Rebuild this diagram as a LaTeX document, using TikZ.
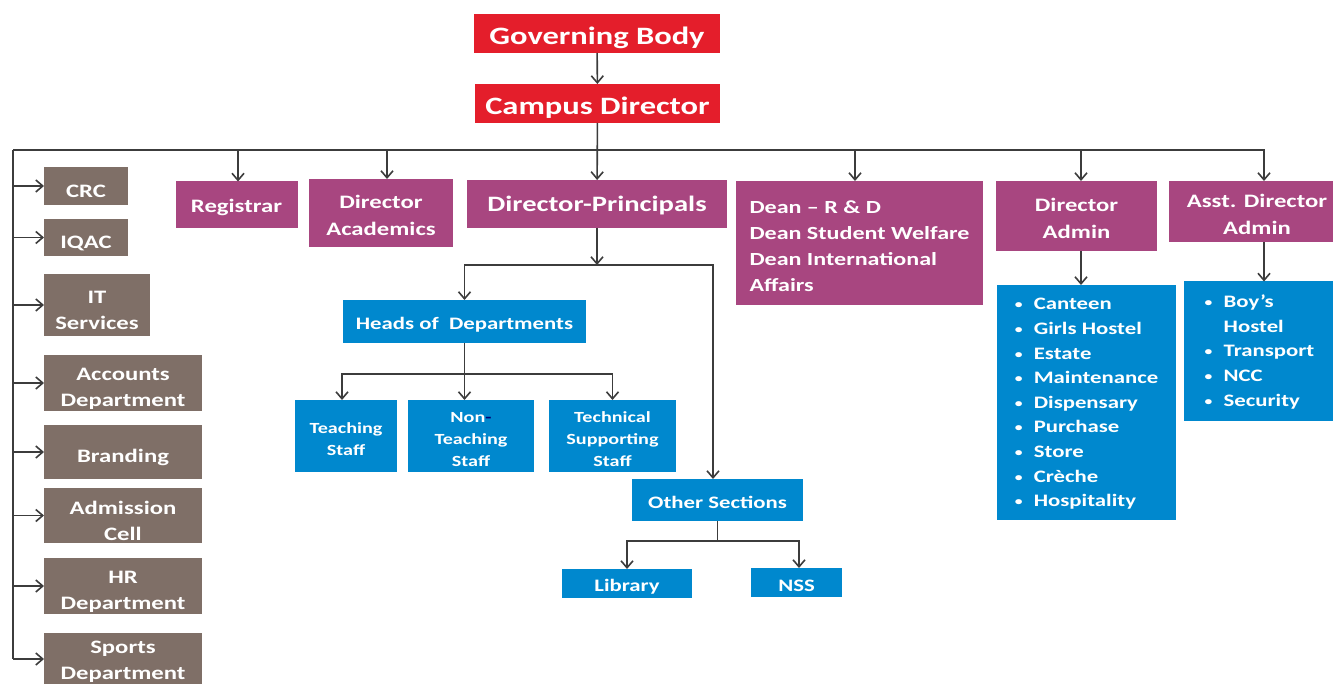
\documentclass[tikz,border=0pt]{standalone}
\usepackage{fontspec}
\setmainfont{Carlito}[FakeStretch=1.3]
\usetikzlibrary{arrows.meta,
	positioning,
	calc}
\definecolor{govred}{RGB}{228,30,43}
\definecolor{mgmtpurple}{RGB}{168,70,128}
\definecolor{cellgray}{RGB}{127,111,103}
\definecolor{deptblue}{RGB}{0,136,206}
\definecolor{linkgray}{RGB}{60,60,60}
\newcommand{\fsz}[2]{\fontsize{#1}{#2}\selectfont}
\newcommand{\bul}{\makebox[19pt][l]{\raisebox{1pt}{\fsz{12}{12}\textbullet}}}
\newcommand{\nobul}{\hspace*{19pt}}
\newlength{\firstln}
\newcommand{\fl}{\rule{0pt}{\firstln}}
\tikzset{
	unit/.style={inner sep=0pt, outer sep=0pt, text=white, align=center},
	redbox/.style={unit, fill=govred, font=\bfseries\fsz{25}{30},
		execute at begin node={\setlength{\firstln}{25.5pt}}},
	purplebox/.style={unit, fill=mgmtpurple, font=\bfseries\fsz{19}{27},
		execute at begin node={\setlength{\firstln}{18.5pt}}},
	graybox/.style={unit, fill=cellgray, font=\bfseries\fsz{19}{26},
		execute at begin node={\setlength{\firstln}{23.5pt}}},
	bluebox/.style={unit, fill=deptblue, font=\bfseries\fsz{17.5}{24.6},
		execute at begin node={\setlength{\firstln}{18pt}}},
	staffbox/.style={bluebox, font=\bfseries\fsz{15.5}{22},
		execute at begin node={\setlength{\firstln}{17pt}}},
	listbox/.style={bluebox, align=left,
		execute at begin node={\setlength{\firstln}{14.5pt}}},
	link/.style={draw=linkgray, line width=1.6pt},
	>={Straight Barb[length=7pt,width=12pt]}
}
\begin{document}
\begin{tikzpicture}[x=1pt, y=-1pt]
	\fill[white] (0,0) rectangle (1333,684);
	\useasboundingbox (0,0) rectangle (1333,684);
	% top of the tree
	\node (gov) [redbox, minimum width=246pt, minimum height=39pt] at (597,33.5) {\fl Governing Body};
	\node (campus) [redbox, minimum width=245pt, minimum height=39pt] at (597.5,103.5) {\fl Campus Director};
	% cells on the left
	\node (crc) [graybox, minimum width=84pt, minimum height=38pt] at (86,186) {\fl CRC};
	\node (iqac) [graybox, minimum width=84pt, minimum height=37pt] at (86,237.5) {\fl IQAC};
	\node (itserv) [graybox, minimum width=106pt, minimum height=62pt] at (97,305) {\fl IT\\Services};
	\node (accounts) [graybox, minimum width=158pt, minimum height=56pt] at (123,383) {\fl Accounts\\Department};
	\node (branding) [graybox, minimum width=158pt, minimum height=54pt] at (123,452) {\fl Branding};
	\node (admission) [graybox, minimum width=158pt, minimum height=55pt] at (123,515.5) {\fl Admission\\Cell};
	\node (hrdept) [graybox, minimum width=158pt, minimum height=56pt] at (123,586) {\fl HR\\Department};
	\node (sports) [graybox, minimum width=158pt, minimum height=52pt,
		execute at begin node={\setlength{\firstln}{17pt}}] at (123,659) {\fl Sports\\Department};
	% second level
	\node (registrar) [purplebox, minimum width=122pt, minimum height=47pt] at (236.5,205) {\fl Registrar};
	\node (diracad) [purplebox, minimum width=144pt, minimum height=68pt] at (381,213) {\fl Director\\Academics};
	\node (dirprin) [purplebox, font=\bfseries\fsz{22}{26}, minimum width=260pt, minimum height=48pt] at (597,204) {\fl Director-Principals};
	\node (deans) [purplebox, font=\bfseries\fsz{18.5}{26}, align=left, minimum width=247pt, minimum height=124pt] at (859.5,243) {\fl Dean -- R \& D\\Dean Student Welfare\\Dean International\\Affairs};
	\node (diradmin) [purplebox, minimum width=161pt, minimum height=70pt] at (1076.5,216) {\fl Director\\Admin};
	\node (asstadmin) [purplebox, minimum width=176pt, minimum height=61pt] at (1257,211.5) {\fl Asst. Director\\Admin};
	% academic side
	\node (hods) [bluebox, minimum width=243pt, minimum height=43pt] at (464.5,321.5) {\fl Heads of\ \ Departments};
	\node (teaching) [staffbox, minimum width=102pt, minimum height=72pt] at (346,436) {\fl Teaching\\Staff};
	\node (nonteaching) [staffbox, minimum width=126pt, minimum height=72pt] at (471,436) {\fl Non{\color{blue!45!black}-}\\Teaching\\Staff};
	\node (technical) [staffbox, minimum width=127pt, minimum height=72pt] at (612.5,436) {\fl Technical\\Supporting\\Staff};
	\node (others) [bluebox, minimum width=171pt, minimum height=42pt] at (717.5,500) {\fl Other Sections};
	\node (library) [bluebox, minimum width=130pt, minimum height=29pt] at (627,583.5) {\fl Library};
	\node (nss) [bluebox, minimum width=91pt, minimum height=29pt] at (796.5,582.5) {\fl NSS};
	% admin lists
	\node (adminlist) [listbox, minimum width=179pt, minimum height=235pt] at (1086.5,402.5)
		{\fl\bul Canteen\\\bul Girls Hostel\\\bul Estate\\\bul Maintenance\\\bul Dispensary\\\bul Purchase\\\bul Store\\\bul Crèche\\\bul Hospitality};
	\node (asstlist) [listbox, minimum width=151pt, minimum height=139pt] at (1259.5,351)
		{\fl\bul Boy’s\\\nobul Hostel\\\bul Transport\\\bul NCC\\\bul Security};
	% connectors
	\draw[link,->] (gov) -- (campus);
	\draw[link,->] (campus) -- (dirprin);
	\coordinate (busL) at (13,150);
	\draw[link,->] (busL) -| ([xshift=7pt]asstadmin.north);
	\draw[link] (busL) -- (busL |- sports.west);
	\foreach \n in {crc,iqac,itserv,accounts,branding,admission,hrdept,sports}
		\draw[link,->] (busL |- \n.west) -- (\n.west);
	\foreach \n/\dx in {registrar/1.5,diracad/6,deans/-4.5,diradmin/4.5} {
		\coordinate (\n top) at ([xshift=\dx pt]\n.north);
		\draw[link,->] (\n top |- busL) -- (\n top);
	}
	\coordinate (prinJoin) at (dirprin.south |- 0,265);
	\draw[link,->] (dirprin) -- (prinJoin);
	\draw[link,->] (prinJoin) -| (hods);
	\draw[link,->] (prinJoin) -| ([xshift=-4.5pt]others.north);
	\coordinate (hodJoin) at (hods.south |- 0,374);
	\draw[link] (hods) -- (hodJoin);
	\draw[link,->] (hodJoin) -| ([xshift=-4pt]teaching.north);
	\draw[link,->] (hodJoin) -- (hodJoin |- nonteaching.north);
	\draw[link,->] (hodJoin) -| (technical);
	\coordinate (otherJoin) at (others.south |- 0,541);
	\draw[link] (others) -- (otherJoin);
	\draw[link,->] (otherJoin) -| (library);
	\draw[link,->] (otherJoin) -| ([xshift=2.5pt]nss.north);
	\draw[link,->] (diradmin.south -| 1081,0) -- (adminlist.north -| 1081,0);
	\draw[link,->] (asstadmin.south -| 1264,0) -- (asstlist.north -| 1264,0);
\end{tikzpicture}
\end{document}
